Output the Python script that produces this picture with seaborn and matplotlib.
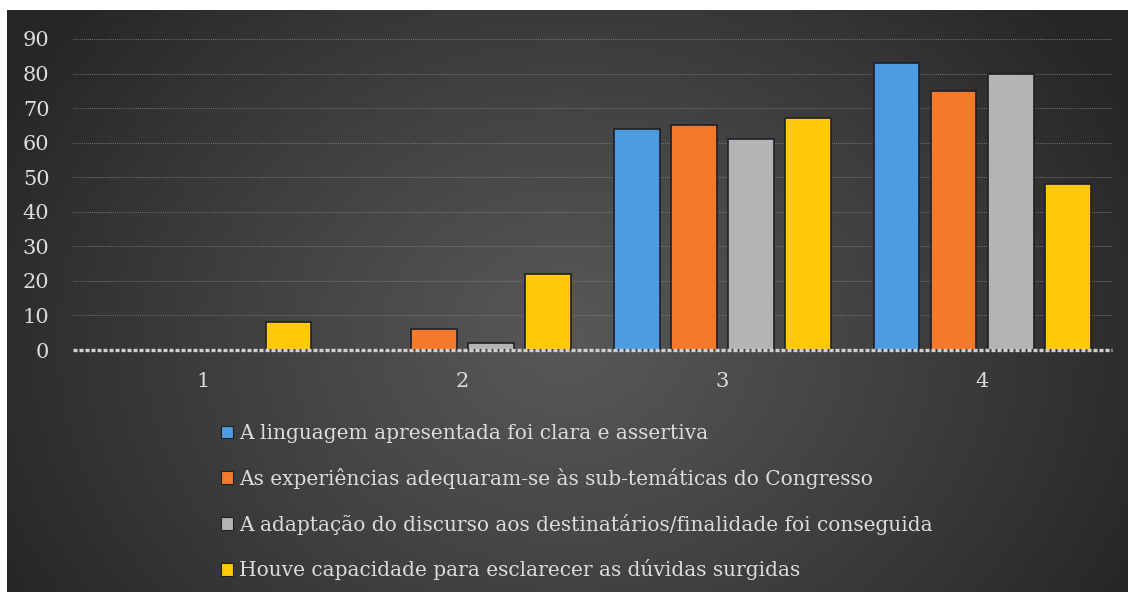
import numpy as np
import pandas as pd
import matplotlib
matplotlib.use("Agg")
import matplotlib.pyplot as plt
from matplotlib.patches import Patch
import seaborn as sns

categories = ["1", "2", "3", "4"]
series_names = [
    "A linguagem apresentada foi clara e assertiva",
    "As experiências adequaram-se às sub-temáticas do Congresso",
    "A adaptação do discurso aos destinatários/finalidade foi conseguida",
    "Houve capacidade para esclarecer as dúvidas surgidas",
]
linguagem = [0, 0, 64, 83]
experiencias = [0, 6, 65, 75]
adaptacao = [0, 2, 61, 80]
duvidas = [8, 22, 67, 48]
colors = ["#4f9be0", "#f47a2a", "#b4b4b4", "#ffc808"]
yticks = [0, 10, 20, 30, 40, 50, 60, 70, 80, 90]

rows = []
for name, vals in zip(series_names, [linguagem, experiencias, adaptacao, duvidas]):
    for c, v in zip(categories, vals):
        rows.append({"cat": c, "serie": name, "valor": v})
df = pd.DataFrame(rows)

sns.set_theme(style="white")
plt.rcParams["font.family"] = ["DejaVu Serif"]

W, H = 1128, 592
fig = plt.figure(figsize=(W / 100, H / 100), dpi=100)
fig.patch.set_facecolor("white")

# background gradient panel (inside white margin)
bg = fig.add_axes([7 / W, 0, 1 - 7 / W, 1 - 10 / H])
bg.set_axis_off()
yy, xx = np.mgrid[0:582, 0:1121]
cx, cy = 560, 330
r = np.sqrt(((xx - cx) / 640.0) ** 2 + ((yy - cy) / 520.0) ** 2)
val = 0x58 - (0x58 - 0x26) * np.clip(r, 0, 1) ** 1.1
img = np.dstack([val, val, val]) / 255.0
bg.imshow(img, aspect="auto", extent=[0, 1, 0, 1], origin="upper")
bg.set_xlim(0, 1)
bg.set_ylim(0, 1)

ax = fig.add_axes([73 / W, 1 - 350 / H, (1112 - 73) / W, (350 - 39) / H])
ax.set_facecolor("none")
sns.barplot(data=df, x="cat", y="valor", hue="serie", hue_order=series_names,
            order=categories, palette=colors, width=0.88, gap=0.2,
            edgecolor="#1e1e28", linewidth=1.2, saturation=1, ax=ax, legend=False)

ax.set_xlim(-0.5, 3.5)
ax.set_ylim(0, 90)
ax.set_yticks(yticks)
ax.set_xlabel("")
ax.set_ylabel("")
for s in ax.spines.values():
    s.set_visible(False)
ax.grid(False)
for t in yticks[1:]:
    ax.axhline(t, color="#8c8c8c", lw=0.6, ls=(0, (1, 1.5)), zorder=0)
ax.axhline(0, color="#d0d0d0", lw=2.4, ls=(0, (1.2, 0.6)), zorder=5, clip_on=False)
ax.tick_params(axis="y", length=0, pad=17, labelsize=15, labelcolor="#dcdcdc")
ax.tick_params(axis="x", length=0, pad=16, labelsize=15, labelcolor="#dcdcdc")

handles = [Patch(facecolor=c, edgecolor="#202020", linewidth=0.8) for c in colors]
fig.legend(handles, series_names, loc="upper left",
           bbox_to_anchor=(221 / W, 1 - 424 / H), frameon=False,
           fontsize=14.5, labelcolor="#dcdcdc", handlelength=0.6, handleheight=0.6,
           handletextpad=0.3, labelspacing=1.23, borderpad=0, borderaxespad=0)

fig.savefig("out.png", dpi=100, facecolor=fig.get_facecolor())
